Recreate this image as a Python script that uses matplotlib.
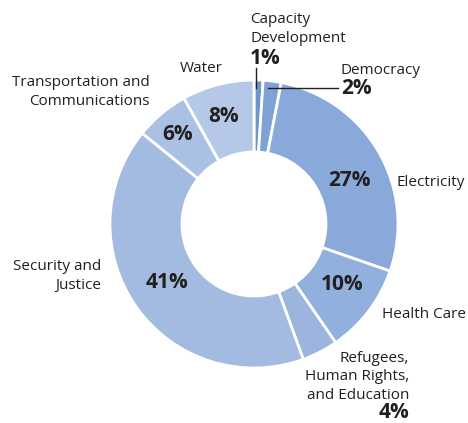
import matplotlib.pyplot as plt

# shares, clockwise from the top
sectors = ['Capacity Development', 'Democracy', 'Electricity', 'Health Care',
           'Refugees, Human Rights, and Education', 'Security and Justice',
           'Transportation and Communications', 'Water']
shares = [1, 2, 27, 10, 4, 41, 6, 8]
colors = ['#6f95cf', '#7ea1d6', '#89a9da', '#92b0dd', '#9bb5df', '#a3bbe1',
          '#aac1e4', '#b5c8e8']

plt.rcParams['font.family'] = ['Open Sans', 'DejaVu Sans']
txt = '#231f20'

fig = plt.figure(figsize=(4.68, 4.23), dpi=100)
ax = fig.add_axes([0, 0, 1, 1])

cx, cy, r = 254, 224, 144
# y axis is flipped below, so -90 is the top and counterclock runs clockwise on screen
wedges, _ = ax.pie(shares, colors=colors, startangle=-90, counterclock=True,
                   center=(cx, cy), radius=r, frame=True,
                   wedgeprops=dict(width=r * 0.5, edgecolor='white', linewidth=2))
ax.set_xlim(0, 468)
ax.set_ylim(423, 0)
ax.axis('off')

fs = 11
bfs = 15
ls = 1.3

# percentages inside the ring
ax.text(349, 181, '27%', ha='center', va='center', fontsize=bfs, fontweight='bold', color=txt)
ax.text(342, 285, '10%', ha='center', va='center', fontsize=bfs, fontweight='bold', color=txt)
ax.text(167, 282, '41%', ha='center', va='center', fontsize=bfs, fontweight='bold', color=txt)
ax.text(178, 134, '6%', ha='center', va='center', fontsize=bfs, fontweight='bold', color=txt)
ax.text(224, 117, '8%', ha='center', va='center', fontsize=bfs, fontweight='bold', color=txt)

# outside labels
ax.text(250, 29, 'Capacity\nDevelopment', ha='left', va='center', fontsize=fs, color=txt,
        linespacing=ls)
ax.text(250, 58, '1%', ha='left', va='center', fontsize=bfs, fontweight='bold', color=txt)
ax.plot([256, 256], [68, 88], color=txt, lw=1)

ax.text(341, 70, 'Democracy', ha='left', va='center', fontsize=fs, color=txt)
ax.text(341, 89, '2%', ha='left', va='center', fontsize=bfs, fontweight='bold', color=txt)
ax.plot([268, 338], [88, 88], color=txt, lw=1)

ax.text(397, 182, 'Electricity', ha='left', va='center', fontsize=fs, color=txt)
ax.text(382, 314, 'Health Care', ha='left', va='center', fontsize=fs, color=txt)
ax.text(409, 377, 'Refugees,\nHuman Rights,\nand Education', ha='right', va='center',
        fontsize=fs, color=txt, linespacing=ls)
ax.text(409, 412, '4%', ha='right', va='center', fontsize=bfs, fontweight='bold', color=txt)
ax.text(101, 276, 'Security and\nJustice', ha='right', va='center', fontsize=fs,
        color=txt, linespacing=ls)
ax.text(150, 92, 'Transportation and\nCommunications', ha='right', va='center',
        fontsize=fs, color=txt, linespacing=ls)
ax.text(201, 68, 'Water', ha='center', va='center', fontsize=fs, color=txt)

fig.savefig('out.png', dpi=100)
